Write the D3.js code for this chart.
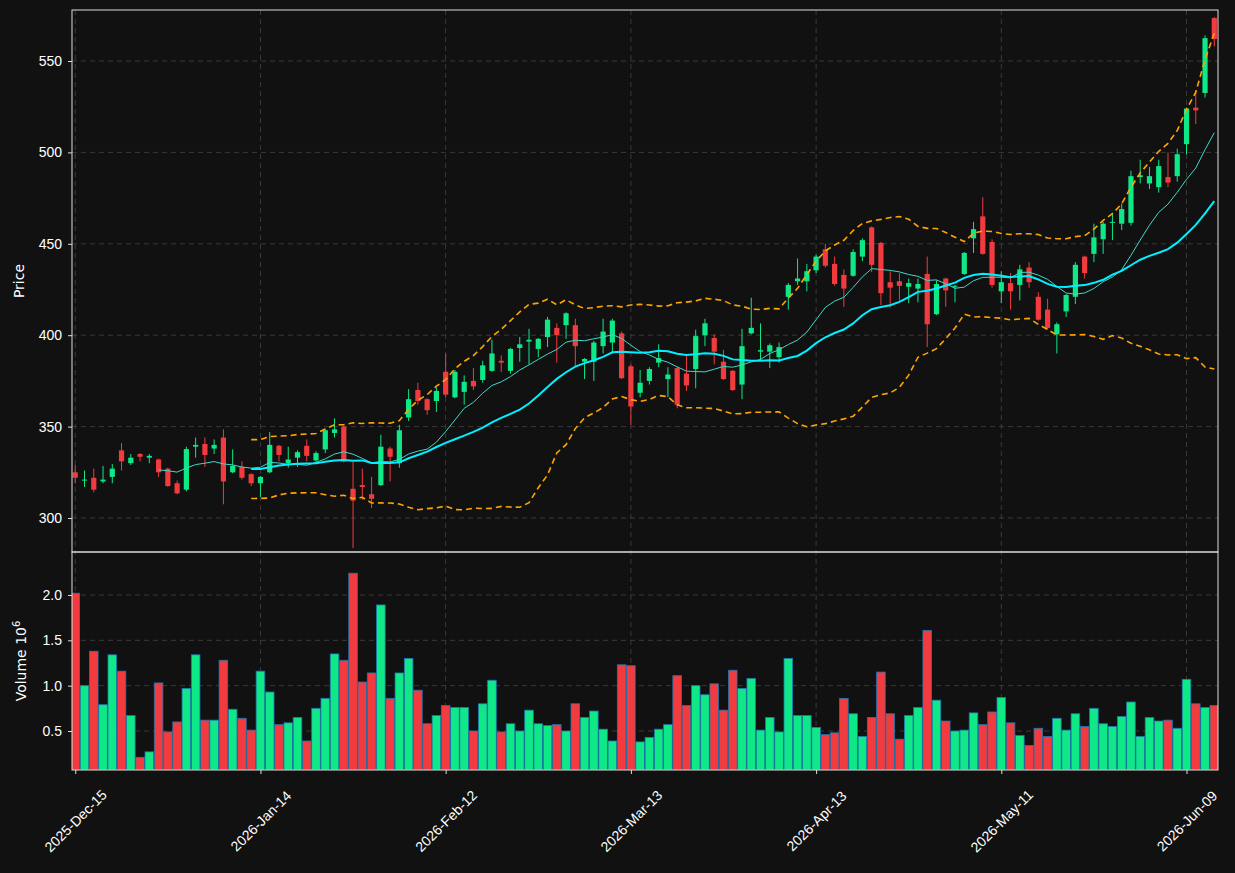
<!DOCTYPE html>
<html>
<head>
<meta charset="utf-8">
<script src="https://cdn.jsdelivr.net/npm/d3@7"></script>
<style>
  body { margin: 0; background: #111111; }
  svg { font-family: "DejaVu Sans", sans-serif; }
</style>
</head>
<body>
<svg id="chart" width="1235" height="873"></svg>
<script>
// candle data
var opens  = [325,320.5,322,320,322.5,337,330,335,333,332,327,319,315.5,339,340.5,338,344,325,328,324,
  319,325,339.5,330,333,339.5,331.5,337.5,346.5,350,316,318,313,318,338,330,355,370,365,364,
  380,366,369,375,375.5,380.5,386,380.5,393,396.5,392.5,399,404,405.5,405.5,385.5,385.5,394,396,401,
  383,368.5,375,385,376,382,379,381.5,400,398.5,385.5,380.5,373,401,391,391,388,421,429.5,429.5,
  435.5,447,439,433,432.5,443,459,450.5,429,429.5,426.5,425.5,433.5,411.5,431,426.8,433.5,453,465,451,
  424,428.5,427.5,437,421,414,400.5,413,421,443,444.5,452.5,461.5,461,461.5,486.5,483,481,486.5,487,
  504.5,524.5,532.5,573.5]
var closes = [322,321,315.5,321,327,331,333,333.5,334,325,317.5,313.5,337.7,340,334.5,340,320,328.5,322,319,
  322.5,340,334.5,332,336,334,335.5,348,348.5,331,309.5,317,310.5,339,333.5,348,365,364,359,369.5,
  367.5,380,374.5,372,383.5,390,385,392.5,395,397.5,398,408.5,400,412,394,387,396,402,408,376.5,
  361,374,381.5,387.5,378.5,362,372.5,399.5,406.5,391,376,370,394,404,391.8,394.5,393.5,427.5,431,435,
  443,438,428,425.5,445.5,452,438.5,423,426,427,428.5,428,406,428,424.5,427,445,458,444.5,427.5,
  429,424,436,429,408.5,404,406,422,438.5,434,453.5,461,462,469,487,487.5,487,492.5,483.5,499,
  524,523,562.5,562]
var highs  = [329,326,327,328.5,329.5,341,335,335.5,335,332.5,327.5,320.5,339,344,344,343,348.5,337.5,331,324.5,
  323,347,340,339,337,343,336.5,348.5,354.5,350.5,331,327,322.5,345.5,339,351,370.5,374,365.5,371.5,
  390,381,378,382,386,397.5,389,393,399,403.5,398.5,410,406.5,412.5,409,387.5,397,409,409,402,
  384,381,382.5,395,382.5,382.5,389,403,409,400.5,392,381,403.5,420.5,406.5,395.5,396,428.5,442,439,
  444,450,443,436,447,453,459.5,451,435,434,431,431,443,430,431.5,427.5,445.5,462,475.5,452.5,
  435,434,438.5,440,423.5,420,407,422.5,440,443.5,461,462,467,472,490,496,492,496,500,502,
  524.5,534,564,574]
var lows   = [319,317,314,319,319,326,329,331,330,322.5,317,313,314.5,333,328,335,307.5,324.5,321,317.5,
  311.5,324.5,331,327.5,328,331,329.5,335.5,344,330.5,283.5,310,305.5,317.5,320,327.5,353,362,356.5,358,
  366,365.5,362,370,374,380,380,379,385.5,384,388,393.5,385,398,383,376,375,390,390,376,
  351,366,373,382.5,366,360,369.5,371,394,384,375.5,369.5,365,400.5,386,382,385,414,427.5,424,
  434,437,427,415.5,432,440.5,434.5,416.5,415,419,417.5,418,393.5,411,415.5,418,433,445,444,426,
  417.5,414,419,426,408,403,390,410,417,431,440,444.5,452,457.5,460,483,480,478,481,484,
  499,515.5,530,558]
// volume in millions
var volumes = [2.02,1.0,1.38,0.79,1.34,1.16,0.67,0.21,0.27,1.03,0.49,0.60,0.97,1.34,0.62,0.62,1.28,0.74,0.64,0.51,
  1.16,0.93,0.57,0.59,0.65,0.39,0.75,0.86,1.35,1.28,2.24,1.04,1.14,1.89,0.86,1.14,1.30,0.95,0.58,0.67,
  0.78,0.76,0.76,0.50,0.80,1.06,0.49,0.58,0.50,0.73,0.58,0.56,0.57,0.50,0.80,0.65,0.72,0.52,0.39,1.23,
  1.22,0.38,0.43,0.52,0.57,1.11,0.78,1.0,0.90,1.02,0.73,1.17,0.97,1.08,0.51,0.65,0.49,1.30,0.67,0.67,
  0.54,0.46,0.48,0.86,0.69,0.44,0.65,1.15,0.69,0.41,0.67,0.76,1.61,0.84,0.61,0.50,0.51,0.70,0.57,0.71,
  0.87,0.59,0.45,0.34,0.53,0.44,0.64,0.51,0.69,0.55,0.75,0.58,0.55,0.66,0.82,0.44,0.65,0.61,0.62,0.53,
  1.07,0.80,0.76,0.78]
var tickIndex  = [0,20,40,60,80,100,120]
var tickLabels = ['2025-Dec-15','2026-Jan-14','2026-Feb-12','2026-Mar-13','2026-Apr-13','2026-May-11','2026-Jun-09']
var priceTicks = [300,350,400,450,500,550]
var volTicks   = [0.5,1.0,1.5,2.0]

var up = '#0fe887', down = '#f23b3f'

var data = opens.map((o, i) => ({ i: i, o: o, c: closes[i], h: highs[i], l: lows[i], v: volumes[i] }))

// moving averages and bands from closes
function sma(n) {
  return closes.map((c, i) => i < n - 1 ? null : d3.mean(closes.slice(i - n + 1, i + 1)))
}
var ma10 = sma(10), ma20 = sma(20)
var bands = closes.map((c, i) => {
  if (i < 19) return null
  var w = closes.slice(i - 19, i + 1), m = d3.mean(w)
  var sd = Math.sqrt(d3.mean(w.map(x => (x - m) * (x - m))))
  return { u: m + 2 * sd, l: m - 2 * sd }
})

var svg = d3.select('#chart')
var L = 72, R = 1218, pTop = 10, pBot = 552, vBot = 770

var x = d3.scaleLinear().domain([-0.35, 123.4]).range([L, R])
var y = d3.scaleLinear().domain([281.4, 577.9]).range([pBot, pTop])
var yv = d3.scaleLinear().domain([0.07, 2.474]).range([vBot, pBot])

svg.append('rect').attr('width', 1235).attr('height', 873).attr('fill', '#111111')

svg.append('clipPath').attr('id', 'cp').append('rect').attr('x', L).attr('y', pTop).attr('width', R - L).attr('height', pBot - pTop)
svg.append('clipPath').attr('id', 'cv').append('rect').attr('x', L).attr('y', pBot).attr('width', R - L).attr('height', vBot - pBot)

// grid
var grid = svg.append('g').attr('stroke', '#444').attr('stroke-dasharray', '5,4').attr('stroke-width', 0.8)
tickIndex.forEach(t => grid.append('line').attr('x1', x(t)).attr('x2', x(t)).attr('y1', pTop).attr('y2', vBot))
priceTicks.forEach(t => grid.append('line').attr('x1', L).attr('x2', R).attr('y1', y(t)).attr('y2', y(t)))
volTicks.forEach(t => grid.append('line').attr('x1', L).attr('x2', R).attr('y1', yv(t)).attr('y2', yv(t)))

// candles
var pc = svg.append('g').attr('clip-path', 'url(#cp)')
var cg = pc.selectAll('g.c').data(data).enter().append('g')
cg.append('line')
  .attr('x1', d => x(d.i)).attr('x2', d => x(d.i))
  .attr('y1', d => y(d.h)).attr('y2', d => y(d.l))
  .attr('stroke', d => d.c >= d.o ? up : down).attr('stroke-width', 1)
cg.append('rect')
  .attr('x', d => x(d.i) - 2.6).attr('width', 5.2)
  .attr('y', d => y(Math.max(d.o, d.c)))
  .attr('height', d => Math.max(1, Math.abs(y(d.o) - y(d.c))))
  .attr('fill', d => d.c >= d.o ? up : down)

// lines
var line = d3.line().defined(d => d != null).x((d, i) => x(i)).curve(d3.curveLinear)
pc.append('path').datum(ma10).attr('d', line.y(d => y(d))).attr('fill', 'none').attr('stroke', '#40d8c8').attr('stroke-width', 1)
pc.append('path').datum(ma20).attr('d', line.y(d => y(d))).attr('fill', 'none').attr('stroke', '#00f0ff').attr('stroke-width', 2)
pc.append('path').datum(bands).attr('d', line.y(d => y(d.u))).attr('fill', 'none').attr('stroke', '#ffa500').attr('stroke-width', 1.6).attr('stroke-dasharray', '6,4')
pc.append('path').datum(bands).attr('d', line.y(d => y(d.l))).attr('fill', 'none').attr('stroke', '#ffa500').attr('stroke-width', 1.6).attr('stroke-dasharray', '6,4')

// volume
svg.append('g').attr('clip-path', 'url(#cv)')
  .selectAll('rect').data(data).enter().append('rect')
  .attr('x', d => x(d.i) - 4.3).attr('width', 8.6)
  .attr('y', d => yv(d.v)).attr('height', d => vBot - yv(d.v))
  .attr('fill', d => d.c >= d.o ? up : down)
  .attr('stroke', '#1f77b4').attr('stroke-width', 0.8)

// frames
svg.append('rect').attr('x', L).attr('y', pTop).attr('width', R - L).attr('height', pBot - pTop).attr('fill', 'none').attr('stroke', '#ddd')
svg.append('rect').attr('x', L).attr('y', pBot).attr('width', R - L).attr('height', vBot - pBot).attr('fill', 'none').attr('stroke', '#ddd')

// axes
function styleAxis(g) {
  g.select('.domain').remove()
  g.selectAll('line').attr('stroke', '#ddd')
  g.selectAll('text').attr('fill', '#fff').attr('font-size', 14)
}
svg.append('g').attr('transform', 'translate(' + L + ',0)')
  .call(d3.axisLeft(y).tickValues(priceTicks).tickSize(4).tickPadding(6)).call(styleAxis)
svg.append('g').attr('transform', 'translate(' + L + ',0)')
  .call(d3.axisLeft(yv).tickValues(volTicks).tickFormat(d3.format('.1f')).tickSize(4).tickPadding(6)).call(styleAxis)
var xa = svg.append('g').attr('transform', 'translate(0,' + vBot + ')')
  .call(d3.axisBottom(x).tickValues(tickIndex).tickFormat((d, i) => tickLabels[i]).tickSize(4)).call(styleAxis)
// rotated labels centred under their tick
xa.selectAll('.tick text').attr('text-anchor', 'middle').attr('x', 0).attr('y', 0).attr('dy', '0.35em')
  .attr('transform', 'translate(0,51) rotate(-45)').attr('font-size', 14)

svg.append('text').attr('transform', 'translate(24,' + (pTop + pBot) / 2 + ') rotate(-90)')
  .attr('text-anchor', 'middle').attr('fill', '#fff').attr('font-size', 14).text('Price')
var vl = svg.append('text').attr('transform', 'translate(26,' + (pBot + vBot) / 2 + ') rotate(-90)')
  .attr('text-anchor', 'middle').attr('fill', '#fff').attr('font-size', 14)
vl.append('tspan').text('Volume  10')
vl.append('tspan').attr('dy', -6).attr('font-size', 10).text('6')
</script>
</body>
</html>
